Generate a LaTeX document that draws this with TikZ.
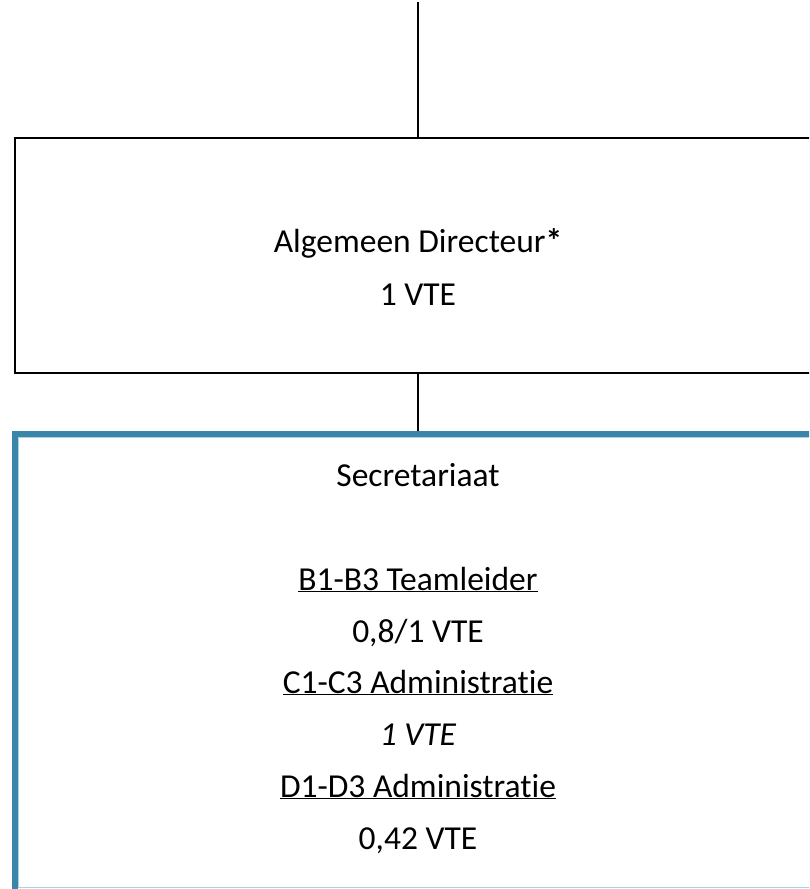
\documentclass[tikz,border=0pt]{standalone}
\usepackage{fontspec}
\setmainfont{Carlito}[Ligatures={NoCommon}]
\definecolor{secblue}{HTML}{3A86AB}
\definecolor{seclight}{HTML}{A9D3E3}
\tikzset{
  dirbox/.style={draw=black,line width=2.4pt,minimum width=806pt,minimum height=235pt,inner sep=0pt},
  secbox/.style={draw=secblue,line width=6pt,minimum width=806pt,minimum height=466pt,inner sep=0pt},
  secinner/.style={draw=seclight,line width=1pt,minimum width=799pt,minimum height=450pt,inner sep=0pt},
  txt/.style={anchor=base,inner sep=0pt,font=\fontsize{33.5}{40}\selectfont},
  link/.style={line width=2pt}
}
\begin{document}
\begin{tikzpicture}[x=1pt,y=-1pt]
  \useasboundingbox (0,0) rectangle (809,889);
  \clip (0,0) rectangle (809,889);
  % boxes
  \node[dirbox] (dir) at (418,255.5) {};
  \node[secinner] (secin) at (418,662.5) {};
  \node[secbox] (sec) at (418,667) {};
  \coordinate (top) at (418,2);
  % texts
  \node[txt] (dirname) at (418,252) {Algemeen Directeur\textbf{*}};
  \node[txt] (dirvte) at (418,305) {1 VTE};
  \node[txt] (secname) at (418,486) {Secretariaat};
  \node[txt] (teamleider) at (418,590) {\underline{B1-B3 Teamleider}};
  \node[txt] (teamvte) at (418,642) {0,8/1 VTE};
  \node[txt] (admc) at (418,693) {\underline{C1-C3 Administratie}};
  \node[txt] (admcvte) at (418,745) {\itshape 1 VTE};
  \node[txt] (admd) at (418,797) {\underline{D1-D3 Administratie}};
  \node[txt] (admdvte) at (418,849) {0,42 VTE};
  % lines
  \draw[link] (top) -- (dir.north);
  \draw[link] (dir.south) -- (sec.north);
\end{tikzpicture}
\end{document}
